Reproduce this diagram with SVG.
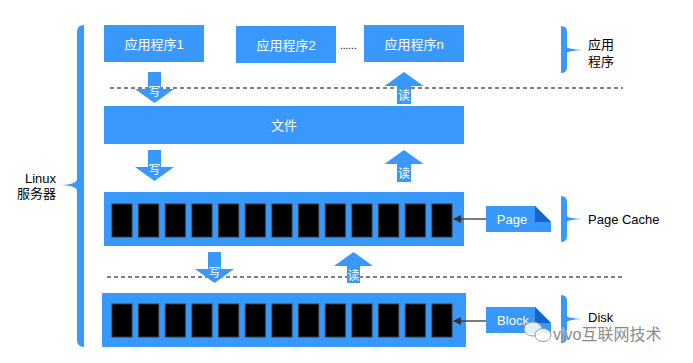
<svg xmlns="http://www.w3.org/2000/svg" width="693" height="363" viewBox="0 0 693 363">
<defs>
<style>
.box{fill:#3898FC}
.blk{fill:#000;stroke:#3a3a3a;stroke-width:1}
.wt{fill:#fff;font-family:"Liberation Sans","Noto Sans CJK SC",sans-serif;font-size:13px;text-anchor:middle;dominant-baseline:central}
.lbl{fill:#fff;font-family:"Noto Sans CJK SC",sans-serif;font-size:12px;text-anchor:middle;dominant-baseline:central}
.bt{fill:#000;font-family:"Liberation Sans","Noto Sans CJK SC",sans-serif;font-size:13px}
.dash{stroke:#000;stroke-width:1;stroke-dasharray:4 3;fill:none}
.brace{fill:#3898FC}
.conn{stroke:#333;stroke-width:1.3;fill:none}
</style>
<marker id="ah" viewBox="0 0 10 10" refX="9" refY="5" markerWidth="8" markerHeight="8" markerUnits="userSpaceOnUse" orient="auto">
<path d="M0,0 L10,5 L0,10 Z" fill="#333"/>
</marker>
<g id="blocks">
<rect class="blk" x="112" y="0" width="20" height="33"/>
<rect class="blk" x="138.7" y="0" width="20" height="33"/>
<rect class="blk" x="165.3" y="0" width="20" height="33"/>
<rect class="blk" x="192" y="0" width="20" height="33"/>
<rect class="blk" x="218.7" y="0" width="20" height="33"/>
<rect class="blk" x="245.3" y="0" width="20" height="33"/>
<rect class="blk" x="272" y="0" width="20" height="33"/>
<rect class="blk" x="298.7" y="0" width="20" height="33"/>
<rect class="blk" x="325.3" y="0" width="20" height="33"/>
<rect class="blk" x="352" y="0" width="20" height="33"/>
<rect class="blk" x="378.7" y="0" width="20" height="33"/>
<rect class="blk" x="405.3" y="0" width="20" height="33"/>
<rect class="blk" x="432" y="0" width="20" height="33"/>
</g>
</defs>
<rect width="693" height="363" fill="#fff"/>

<g id="app1"><rect class="box" x="104" y="25" width="100" height="37"/><text class="wt" x="154" y="44">应用程序1</text></g>
<g id="app2"><rect class="box" x="236" y="26" width="100" height="37"/><text class="wt" x="286" y="45">应用程序2</text></g>
<g id="dots"><text x="340" y="49" font-family="Liberation Sans,sans-serif" font-size="10" fill="#000">......</text></g>
<g id="appn"><rect class="box" x="364" y="25" width="100" height="37"/><text class="wt" x="414" y="44">应用程序n</text></g>

<g id="file"><rect class="box" x="104" y="106" width="360" height="38"/><text class="wt" x="284" y="125">文件</text></g>

<g id="pagecache"><rect class="box" x="104" y="192" width="360" height="54"/><use href="#blocks" y="204"/></g>
<g id="disk"><rect class="box" x="102" y="293" width="364" height="54"/><use href="#blocks" y="304"/></g>

<g id="page">
<path class="box" d="M486 206 H535 L551 222 V232 H486 Z"/>
<path d="M535 206 L551 222 H535 Z" fill="#1565C8"/>
<text class="wt" x="512" y="219">Page</text>
</g>
<g id="block">
<path class="box" d="M486 307 H535 L551 323 V333 H486 Z"/>
<path d="M535 307 L551 323 H535 Z" fill="#1565C8"/>
<text class="wt" x="513" y="320">Block</text>
</g>

<g id="connectors">
<line class="dash" x1="110" y1="88" x2="623" y2="88"/>
<line class="dash" x1="107" y1="277" x2="623" y2="277"/>
<line class="conn" x1="486" y1="219" x2="454" y2="219" marker-end="url(#ah)"/>
<line class="conn" x1="486" y1="321" x2="454" y2="321" marker-end="url(#ah)"/>
<g id="w1"><path class="box" d="M148 72 H161 V89 H174 L154.5 103 L135 89 H148 Z"/><text class="lbl" x="154.5" y="90">写</text></g>
<g id="w2"><path class="box" d="M148 150 H161 V167 H174 L154.5 181 L135 167 H148 Z"/><text class="lbl" x="154.5" y="168">写</text></g>
<g id="w3"><path class="box" d="M208 252 H221 V269 H234 L214.5 283 L195 269 H208 Z"/><text class="lbl" x="214.5" y="271">写</text></g>
<g id="r1"><path class="box" d="M404 72 L423.5 86 H411 V104 H397 V86 H384.5 Z"/><text class="lbl" x="404" y="94">读</text></g>
<g id="r2"><path class="box" d="M404 150 L423.5 164 H411 V182 H397 V164 H384.5 Z"/><text class="lbl" x="404" y="172">读</text></g>
<g id="r3"><path class="box" d="M353.5 252 L373 266 H360 V283 H347 V266 H334 Z"/><text class="lbl" x="353.5" y="274">读</text></g>
</g>

<g id="linux-brace">
<path class="brace" d="M84 25 Q77 25 77 32 L77 179 Q77 184 62 185 Q77 186 77 191 L77 340 Q77 347 84 347 Z"/>
<text class="bt" x="56" y="183" text-anchor="end">Linux</text>
<text class="bt" x="56" y="198" text-anchor="end">服务器</text>
</g>
<g id="app-brace">
<path class="brace" d="M561 26 Q567 26 567 32 L567 47 Q567 49 583 50 Q567 51 567 53 L567 67 Q567 73 561 73 Z"/>
<text class="bt" x="588" y="49">应用</text>
<text class="bt" x="588" y="66">程序</text>
</g>
<g id="pc-brace">
<path class="brace" d="M561 196 Q567 196 567 202 L567 216 Q567 218 582 219 Q567 220 567 222 L567 236 Q567 242 561 242 Z"/>
<text class="bt" x="588" y="224">Page Cache</text>
</g>
<g id="disk-brace">
<path class="brace" d="M561 295 Q567 295 567 301 L567 316 Q567 318 582 319 Q567 320 567 322 L567 337 Q567 343 561 343 Z"/>
<text class="bt" x="588" y="322">Disk</text>
</g>

<g id="watermark">
<ellipse cx="533" cy="329" rx="9" ry="7" fill="#fff" fill-opacity="0.85" stroke="#999" stroke-width="1"/>
<ellipse cx="543" cy="335" rx="8" ry="6.5" fill="#fff" fill-opacity="0.85" stroke="#999" stroke-width="1"/>
<text x="553" y="340" font-family="Liberation Sans,'Noto Sans CJK SC',sans-serif" font-size="16" fill="#8a8a8a" stroke="#fff" stroke-width="0.6" paint-order="stroke">vivo互联网技术</text>
</g>
</svg>
